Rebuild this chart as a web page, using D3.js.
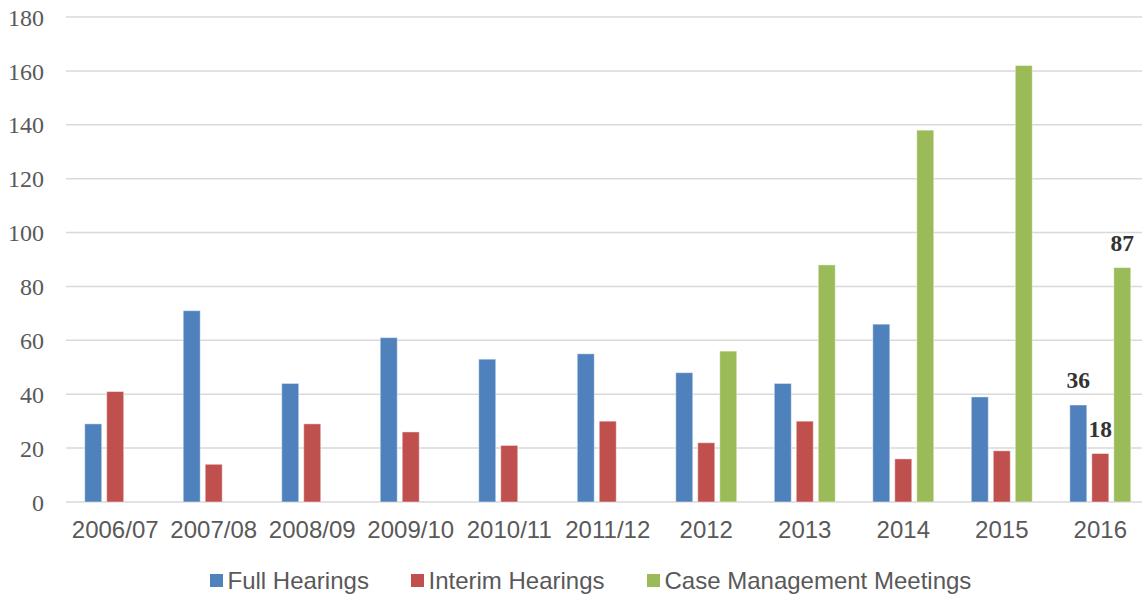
<!DOCTYPE html>
<html>
<head>
<meta charset="utf-8">
<script src="https://cdn.jsdelivr.net/npm/d3@7"></script>
<style>
  html, body { margin: 0; padding: 0; background: #fff; }
  svg { display: block; }
</style>
</head>
<body>
<svg id="chart" width="1142" height="597"></svg>
<script>
// Hearings and meetings per reporting period
const categories = ["2006/07", "2007/08", "2008/09", "2009/10", "2010/11", "2011/12", "2012", "2013", "2014", "2015", "2016"];
const fullHearings = [29, 71, 44, 61, 53, 55, 48, 44, 66, 39, 36];
const interimHearings = [41, 14, 29, 26, 21, 30, 22, 30, 16, 19, 18];
const caseManagementMeetings = [null, null, null, null, null, null, 56, 88, 138, 162, 87];
const seriesNames = ["Full Hearings", "Interim Hearings", "Case Management Meetings"];
const seriesColors = ["#4f81bd", "#c0504d", "#9bbb59"];
const yTicks = [0, 20, 40, 60, 80, 100, 120, 140, 160, 180];
const labelledCategory = "2016";

const seriesValues = [fullHearings, interimHearings, caseManagementMeetings];

const svg = d3.select("#chart");
const W = 1142;
const plot = { left: 66, right: 1149.5, top: 17, bottom: 502 };

const x0 = d3.scaleBand()
  .domain(categories)
  .range([plot.left, plot.right])
  .paddingInner(0.381)
  .paddingOuter(0.19);

const x1 = d3.scaleBand()
  .domain(seriesNames)
  .range([0, x0.bandwidth()])
  .paddingInner(0.227)
  .paddingOuter(0);

const y = d3.scaleLinear().domain([0, 180]).range([plot.bottom, plot.top]);

// horizontal gridlines
svg.append("g")
  .selectAll("line")
  .data(yTicks)
  .join("line")
  .attr("x1", plot.left)
  .attr("x2", W)
  .attr("y1", d => y(d))
  .attr("y2", d => y(d))
  .attr("stroke", "#d9d9d9")
  .attr("stroke-width", 1.5);

// y axis labels
const yAxis = d3.axisLeft(y).tickValues(yTicks).tickSize(0).tickPadding(0);
const yG = svg.append("g")
  .attr("transform", `translate(44,0)`)
  .call(yAxis);
yG.select(".domain").remove();
yG.selectAll("text")
  .attr("font-family", "'Liberation Serif', 'Times New Roman', serif")
  .attr("font-size", 24)
  .attr("fill", "#595959")
  .attr("dy", "0.34em");

// x axis labels
const xAxis = d3.axisBottom(x0).tickSize(0).tickPadding(0);
const xG = svg.append("g")
  .attr("transform", `translate(0,${plot.bottom})`)
  .call(xAxis);
xG.select(".domain").remove();
xG.selectAll("text")
  .attr("font-family", "'Liberation Sans', Arial, sans-serif")
  .attr("font-size", 24)
  .attr("fill", "#595959")
  .attr("dy", null)
  .attr("y", 35.5);

// bars
const rows = categories.map((c, i) => ({
  category: c,
  values: seriesNames.map((s, k) => ({ series: s, color: seriesColors[k], value: seriesValues[k][i] }))
}));

const groups = svg.append("g")
  .selectAll("g")
  .data(rows)
  .join("g")
  .attr("transform", d => `translate(${x0(d.category)},0)`);

groups.selectAll("rect")
  .data(d => d.values.filter(v => v.value != null))
  .join("rect")
  .attr("x", d => x1(d.series))
  .attr("width", x1.bandwidth())
  .attr("y", d => y(d.value))
  .attr("height", d => y(0) - y(d.value))
  .attr("fill", d => d.color)
  .attr("stroke", "#ffffff")
  .attr("stroke-opacity", 0.45)
  .attr("stroke-width", 1);

// value labels on the latest period
groups.filter(d => d.category === labelledCategory)
  .selectAll("text.value")
  .data(d => d.values.filter(v => v.value != null))
  .join("text")
  .attr("class", "value")
  .attr("x", d => x1(d.series) + x1.bandwidth() / 2)
  .attr("y", d => y(d.value) - 17)
  .attr("text-anchor", "middle")
  .attr("font-family", "'Liberation Serif', 'Times New Roman', serif")
  .attr("font-weight", "bold")
  .attr("font-size", 23.5)
  .attr("fill", "#333333")
  .text(d => d.value);

// legend
const legendX = [210, 411, 647];
const legend = svg.append("g")
  .selectAll("g")
  .data(seriesNames)
  .join("g")
  .attr("transform", (d, i) => `translate(${legendX[i]},574)`);

legend.append("rect")
  .attr("width", 13)
  .attr("height", 13)
  .attr("fill", (d, i) => seriesColors[i]);

legend.append("text")
  .attr("x", 17.5)
  .attr("y", 14.5)
  .attr("font-family", "'Liberation Sans', Arial, sans-serif")
  .attr("font-size", 24)
  .attr("fill", "#595959")
  .text(d => d);
</script>
</body>
</html>
